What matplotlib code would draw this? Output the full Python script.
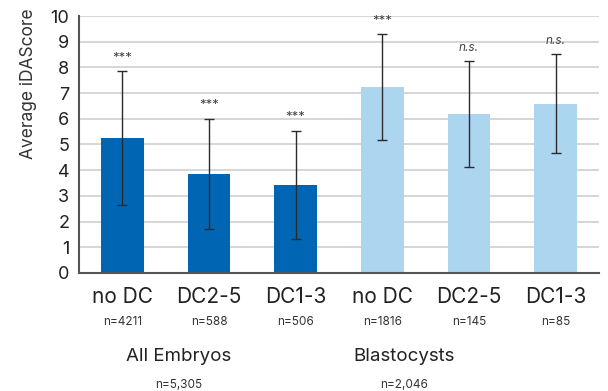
import matplotlib.pyplot as plt
import numpy as np

plt.rcParams['font.family'] = ['Inter', 'DejaVu Sans']

categories = ['no DC', 'DC2-5', 'DC1-3', 'no DC', 'DC2-5', 'DC1-3']
counts = ['n=4211', 'n=588', 'n=506', 'n=1816', 'n=145', 'n=85']
means = [5.25, 3.85, 3.43, 7.24, 6.19, 6.58]
errors = [2.6, 2.15, 2.1, 2.05, 2.05, 1.93]
signif = ['***', '***', '***', '***', 'n.s.', 'n.s.']
groups = ['All Embryos', 'Blastocysts']
group_counts = ['n=5,305', 'n=2,046']
group_pos = [0.65, 3.25]
colors = ['#0066b3'] * 3 + ['#acd5f0'] * 3

fig = plt.figure(figsize=(6.08, 3.91), dpi=100)
ax = fig.add_axes([0.13, 0.302, 0.855, 0.657])

x = np.arange(len(categories))
ax.bar(x, means, width=0.49, color=colors, zorder=2)
ax.errorbar(x, means, yerr=errors, fmt='none', ecolor='#2a2a2a',
            elinewidth=1, capsize=3.5, capthick=1, zorder=3)

for xi, m, e, s in zip(x, means, errors, signif):
    if s == 'n.s.':
        ax.text(xi, m + e + 0.3, s, ha='center', va='bottom',
                fontsize=8.5, style='italic', color='#444444')
    else:
        ax.text(xi, m + e + 0.3, s, ha='center', va='bottom',
                fontsize=9.5, color='#444444')

ax.set_xlim(-0.5, 5.5)
ax.set_ylim(0, 10)
ax.set_yticks(range(11))
ax.tick_params(axis='y', labelsize=13, length=0, pad=7, colors='#222222')
ax.set_xticks(x)
ax.set_xticklabels(categories, fontsize=15, color='#222222')
ax.tick_params(axis='x', length=0, pad=10)
ax.grid(axis='y', color='#d0d0d0', linewidth=1.2, zorder=0)
ax.set_axisbelow(True)
for side in ['top', 'right']:
    ax.spines[side].set_visible(False)
for side in ['left', 'bottom']:
    ax.spines[side].set_color('#555555')
    ax.spines[side].set_linewidth(1.5)
ax.set_ylabel('Average iDAScore', fontsize=12.5, color='#333333')
ax.yaxis.set_label_coords(-0.08, 0.735)

for xi, c in zip(x, counts):
    ax.text(xi, -1.9, c, ha='center', va='center', fontsize=8.5,
            color='#333333', clip_on=False)

for xc, g, gc in zip(group_pos, groups, group_counts):
    ax.text(xc, -3.25, g, ha='center', va='center', fontsize=13.5,
            color='#222222', clip_on=False)
    ax.text(xc, -4.35, gc, ha='center', va='center', fontsize=8.5,
            color='#333333', clip_on=False)

fig.savefig('out.png', dpi=100)
